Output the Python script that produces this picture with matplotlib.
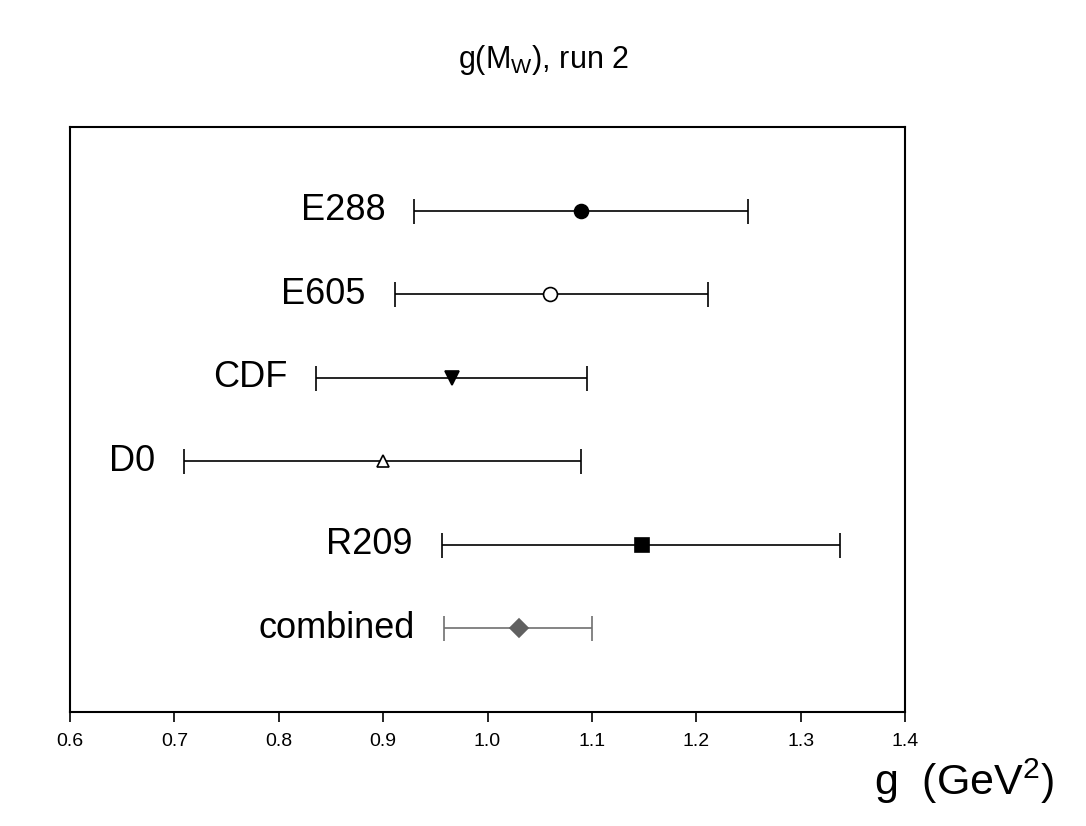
import numpy as np
import matplotlib
matplotlib.use("Agg")
import matplotlib.pyplot as plt

plt.rcParams['font.family'] = ['Liberation Sans', 'DejaVu Sans']

# measurements of g (GeV^2), top to bottom
experiments = ['E288', 'E605', 'CDF', 'D0', 'R209', 'combined']
g_central = [1.09, 1.06, 0.966, 0.90, 1.148, 1.03]
g_low = [0.93, 0.911, 0.836, 0.709, 0.956, 0.958]
g_high = [1.25, 1.211, 1.095, 1.09, 1.338, 1.10]
ticks = [0.6, 0.7, 0.8, 0.9, 1.0, 1.1, 1.2, 1.3, 1.4]

markers = ['o', 'o', 'v', '^', 's', 'D']
faces = ['black', 'white', 'black', 'white', 'black', '#606060']
edges = ['black', 'black', 'black', 'black', 'black', '#606060']
sizes = [10, 10, 10, 8, 10, 9]
line_colors = ['black', 'black', 'black', 'black', 'black', '#707070']

fig = plt.figure(figsize=(10.86, 8.26), dpi=100)
ax = fig.add_axes([0.0645, 0.138, 0.7688, 0.708])

ypos = np.arange(1, len(experiments) + 1)
for i, name in enumerate(experiments):
    c = g_central[i]
    err = [[c - g_low[i]], [g_high[i] - c]]
    ax.errorbar([c], [ypos[i]], xerr=err, fmt='none', ecolor=line_colors[i],
                elinewidth=1.2, capsize=9, capthick=1.2, zorder=2)
    ax.plot([c], [ypos[i]], marker=markers[i], markersize=sizes[i],
            markerfacecolor=faces[i], markeredgecolor=edges[i],
            markeredgewidth=1.2, linestyle='none', zorder=3)
    ax.annotate(name, xy=(g_low[i], ypos[i]), xytext=(-21, 0),
                textcoords='offset points', ha='right', va='center',
                fontsize=26)

ax.set_xlim(0.6, 1.4)
ax.set_ylim(len(experiments) + 1, 0)
ax.set_xticks(ticks)
ax.set_xticklabels(['%.1f' % t for t in ticks])
ax.set_yticks([])
ax.tick_params(axis='x', direction='out', length=7, width=1.2,
               labelsize=14, pad=8)
for sp in ax.spines.values():
    sp.set_linewidth(1.5)

fig.text(0.5, 0.927, r'g(M$_\mathregular{W}$), run 2', ha='center', va='center',
         fontsize=22)
fig.text(0.888, 0.054, r'g  (GeV$^\mathregular{2}$)', ha='center', va='center',
         fontsize=31)

fig.savefig('out.png', dpi=100, facecolor='white')
